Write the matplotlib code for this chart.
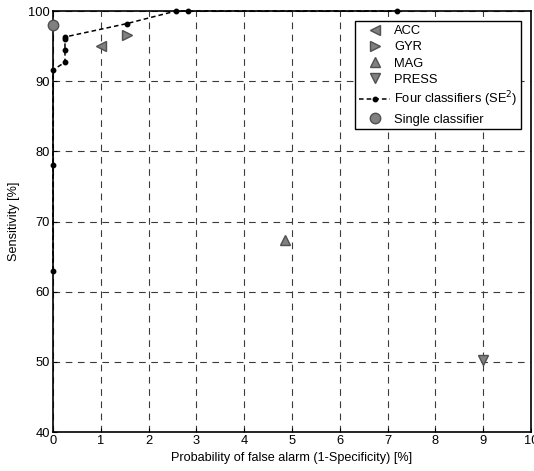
import matplotlib.pyplot as plt

plt.rcParams['font.family'] = ['Liberation Sans', 'DejaVu Sans']

# four classifiers (SE^2) operating points
four_fa = [0, 0, 0, 0.25, 0.25, 0.25, 0.25, 1.54, 2.57, 2.83, 7.19]
four_se = [63, 78, 91.6, 92.7, 94.5, 96.0, 96.3, 98.2, 100, 100, 100]

# single sensor classifiers
acc = (1.0, 95.0)
gyr = (1.55, 96.6)
mag = (4.85, 67.3)
press = (8.99, 50.3)
single = (0, 98.0)

fig = plt.figure(figsize=(5.34, 4.71), dpi=100)
ax = fig.add_axes([0.0993, 0.0828, 0.8951, 0.8938])

gray = '#808080'
edge = '#505050'
ax.plot(*acc, marker='<', ls='none', ms=7.5, mfc=gray, mec=edge, label='ACC')
ax.plot(*gyr, marker='>', ls='none', ms=7.5, mfc=gray, mec=edge, label='GYR')
ax.plot(*mag, marker='^', ls='none', ms=7.5, mfc=gray, mec=edge, label='MAG')
ax.plot(*press, marker='v', ls='none', ms=7.5, mfc=gray, mec=edge, label='PRESS')
ax.plot(four_fa, four_se, color='black', ls=(0, (3, 2)), lw=1.1,
        marker='o', ms=3.2, label='Four classifiers (SE$^2$)', clip_on=False, zorder=5)
ax.plot(*single, marker='o', ls='none', ms=7.5, mfc=gray, mec=edge,
        label='Single classifier', clip_on=False, zorder=6)

ax.set_xlim(0, 10)
ax.set_ylim(40, 100)
ax.set_xticks(range(0, 11))
ax.set_yticks(range(40, 101, 10))
ax.grid(True, color='#3a3a3a', ls=(0, (6, 5)), lw=0.8)
ax.tick_params(direction='in', labelsize=9.3, length=3, pad=2)
for s in ax.spines.values():
    s.set_linewidth(1.2)

ax.set_xlabel('Probability of false alarm (1-Specificity) [%]', fontsize=9.1, labelpad=4)
ax.set_ylabel('Sensitivity [%]', fontsize=9.1, labelpad=6)

leg = ax.legend(loc='upper right', bbox_to_anchor=(0.9935, 0.991), fontsize=9.3,
                fancybox=False, framealpha=1, edgecolor='black', borderpad=0.3,
                labelspacing=0.32, handlelength=2.4, handletextpad=0.3)
leg.get_frame().set_linewidth(1.0)

fig.savefig('out.png', dpi=100)
